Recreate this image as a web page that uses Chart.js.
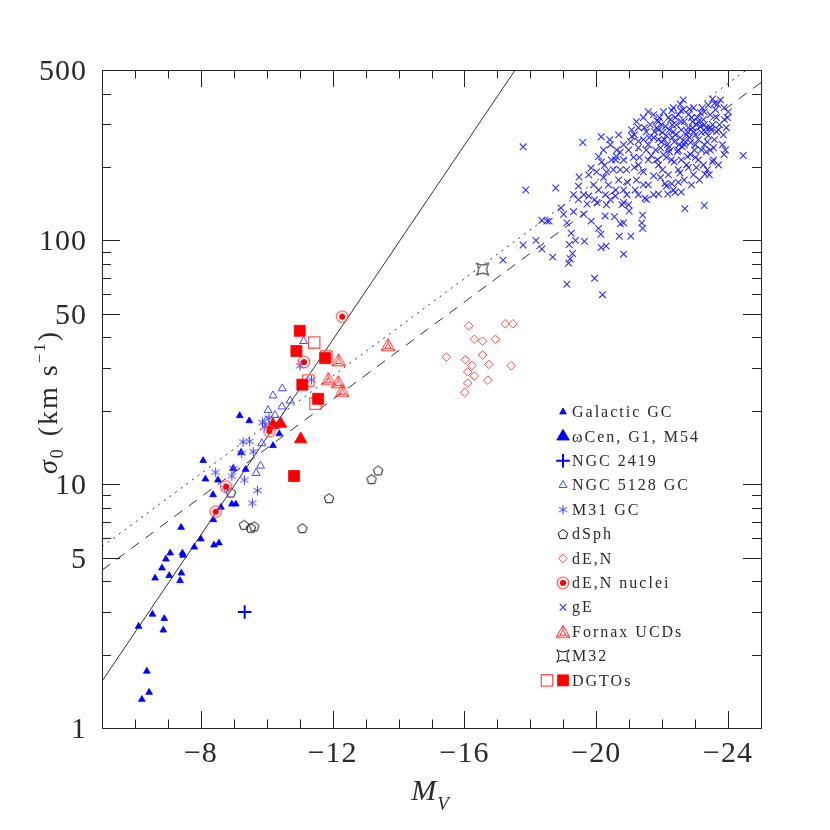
<!DOCTYPE html>
<html><head><meta charset="utf-8">
<script src="https://cdn.jsdelivr.net/npm/chart.js@4.4.0/dist/chart.umd.min.js"></script>
<style>html,body{margin:0;padding:0;background:#fff}</style>
</head><body>
<canvas id="c" width="830" height="830"></canvas>
<script>
// ---------------- data (M_V, sigma_0 in km/s) ----------------
const galacticGC_MV = [-9.18,-9.47,-10.38,-10.19,-8.07,-9.22,-8.98,-9.36,-8.14,-8.52,-8.37,-8.94,-9.06,-8.61,-8.38,-7.40,-8.00,-7.80,-8.40,-8.55,-7.07,-7.44,-7.46,-6.94,-6.82,-6.61,-7.04,-7.41,-7.37,-6.53,-6.89,-6.11,-6.86,-6.36,-6.43,-6.21];
const galacticGC_sigma = [19.1,18.2,16.1,14.4,12.5,13.5,11.6,11.5,10.5,10.4,9.05,8.29,8.29,8.04,7.15,6.65,5.96,5.52,5.63,5.74,5.22,5.22,5.11,4.93,4.53,4.12,4.22,4.32,4.02,2.93,2.81,2.61,2.52,1.71,1.40,1.31];
const omegaCen_MV = [-10.19,-10.42,-11.03];
const omegaCen_sigma = [17.5,17.7,15.3];
const ngc2419_MV = [-9.33];
const ngc2419_sigma = [2.99];
const ngc5128GC_MV = [-11.12,-10.47,-10.19,-10.71,-10.46,-10.04,-10.25,-9.98,-9.85,-9.81,-9.68];
const ngc5128GC_sigma = [38.6,24.7,23.1,22.0,20.8,20.1,19.2,18.2,14.7,11.9,11.1];
const m31GC_MV = [-11.01,-11.36,-9.87,-9.94,-9.28,-9.48,-9.59,-9.24,-8.45,-9.00,-8.94,-9.32,-8.73,-9.72,-9.56,-10.07];
const m31GC_sigma = [30.6,26.8,17.9,17.2,14.9,15.0,13.6,13.4,11.2,11.6,10.8,10.4,9.64,9.42,8.37,18.7];
const dSph_MV = [-8.91,-9.31,-9.52,-9.62,-11.08,-11.89,-13.18,-13.38];
const dSph_sigma = [9.25,6.82,6.63,6.72,6.61,8.77,10.5,11.4];
const dEN_MV = [-16.13,-17.24,-17.47,-16.30,-16.55,-16.94,-15.45,-16.03,-16.55,-16.23,-16.74,-17.42,-16.10,-16.30,-16.71,-16.10,-16.01];
const dEN_sigma = [44.6,45.5,45.5,39.3,38.6,39.3,33.2,32.4,33.9,30.7,31.0,30.6,28.9,27.8,26.7,26.0,23.8];
const dENnuclei_MV = [-12.29,-11.13,-10.08,-8.77,-8.45];
const dENnuclei_sigma = [48.7,31.7,16.5,9.78,7.71];
const fornaxUCD_MV = [-13.68,-12.18,-11.87,-12.17,-12.29];
const fornaxUCD_sigma = [37.3,32.3,27.1,26.3,24.2];
const m32_MV = [-16.55];
const m32_sigma = [76.2];
const dgtoFilled_MV = [-11.00,-10.90,-11.77,-11.08,-11.56,-10.83];
const dgtoFilled_sigma = [42.6,35.2,32.9,25.6,22.4,10.8];
const dgtoOpen_MV = [-11.44,-11.81,-11.26,-11.48];
const dgtoOpen_sigma = [38.1,33.4,26.6,21.4];
const gE_MV = [
 -17.78,-19.59,-20.15,-20.41,-17.86,-18.77,-17.17,-17.78,-18.17,-18.35,-18.68,-18.35,-18.50,-18.57,-18.93,-19.11,-19.24,-19.37,-19.64,-19.18,
 -19.28,-19.21,-19.16,-19.11,-19.95,-20.19,-20.83,-20.15,-20.30,-20.70,-21.05,-20.07,-20.14,-19.85,-19.31,-19.46,-19.48,-19.84,-20.07,-20.25,
 -20.61,-20.73,-21.08,-21.28,-22.69,-23.28,-23.88,-24.46,-23.53,-23.30,-22.29,-22.55,-22.57,-22.83,-23.53,-23.59,-23.88,-21.84,-21.41,-21.38,
 -21.41,-21.00,-20.78,-20.55,-20.73,-20.83,-19.77,-19.72,-20.02,-20.27,-20.58,-20.93,-20.83,-21.53,-21.89,-22.17,-22.39,-22.49,-22.29,-22.09,
 -22.54,-21.18,-21.48,
 -21.16,-21.28,-21.43,-21.52,-21.58,-21.64,-21.74,-21.80,-21.89,-21.92,-21.98,-22.04,-22.10,-22.13,-22.19,-22.25,-22.28,-22.34,-22.37,-22.43,
 -22.46,-22.49,-22.55,-22.58,-22.61,-22.67,-22.74,-22.77,-22.80,-22.86,-22.89,-22.95,-22.98,-23.04,-23.10,-23.16,-23.19,-23.25,-23.28,-23.34,
 -23.40,-23.46,-23.53,-23.59,-23.65,-23.71,-23.46,-23.10,-22.80,-22.49,-22.19,-21.89,-21.58,-21.43,-21.28,-21.13,-20.98,-20.92,-20.68,-20.52,
 -20.37,-20.22,-20.07,-19.92,-19.77,-19.62,-20.43,-20.83,-21.22,-21.58,-21.95,-22.34,-22.67,-22.95,-23.25,-23.56,-23.83,-23.95,-24.01,-23.89,
 -23.77,-23.40,-22.95,-22.64,-22.34,-22.04,-21.74,-21.43,-21.28,-21.04,-20.83,-20.62,-21.89,-22.01,-22.16,-22.31,-22.52,-22.70,-22.83,-23.01,
 -23.16,-23.31,-23.49,-21.83,-21.98,-22.22,-22.40,-22.64,-22.92,-23.07,-23.22,-23.62,-23.74,-21.52,-21.67,-22.13,-22.58,-23.01,-23.34,-20.59,
 -20.28,-19.95,-19.46,-19.31,-19.01,-19.62,-20.31,-20.98,-21.74,-21.28,
 -21.95,-22.07,-22.22,-22.31,-22.40,-22.49,-22.58,-22.67,-22.77,-22.86,-22.92,-23.01,-23.10,-23.19,-23.28,-23.37,-23.46,-23.56,-23.65,-21.77,
 -21.86,-22.01,-22.37,-22.74,-23.04,-23.37,-21.46,-21.61,-21.31,-21.16,-20.95,-20.73,-20.46,-20.31,-20.59,-20.16,-20.01,-21.43,-21.74,-22.13,
 -22.58,-22.89,-23.13,-23.43,-23.71,-23.92,-23.86,-23.98,-23.68,-23.28,-22.80,-22.19,-21.89,-21.58,-21.22,-21.07,-20.83,-20.68,-20.43,-20.22];
const gE_sigma = [
 242,252,266,259,161,164,83.0,95.8,100,92.2,85.4,121,120,120,136,118,107,100,99.1,96.2,
 88.4,84.1,80.7,66.1,69.9,59.9,87.8,93.5,94.9,104,104,112,106,120,131,167,182,198,221,203,
 221,230,267,255,135,139,225,223,210,187,341,362,340,346,380,365,350,310,127,118,
 112,132,140,125,117,118,152,141,143,126,152,154,143,147,155,155,157,173,171,171,
 189,161,149,
 271,290,259,279,247,298,264,235,284,319,254,225,293,269,240,313,214,279,254,298,
 231,328,264,284,242,307,271,221,290,252,319,279,235,298,259,334,277,313,247,290,
 269,328,298,259,319,284,235,214,199,195,186,204,214,191,204,219,235,195,177,195,
 169,181,161,169,186,154,147,161,177,169,181,161,177,186,204,214,247,290,337,313,
 377,359,350,377,350,337,328,319,240,254,214,235,259,277,247,264,247,254,264,271,
 293,279,284,290,298,284,319,344,307,319,350,344,298,235,223,219,214,219,231,214,
 154,147,147,154,128,128,140,140,154,154,
 240,259,231,298,271,235,307,247,279,225,290,247,307,235,298,254,290,240,279,279,
 214,195,210,204,199,195,290,264,219,199,173,195,214,191,161,210,191,169,184,167,
 158,169,177,186,204,235,271,319,362,337,328,319,307,337,307,284,247,271,247,235];
// reference relations (end points)
const solidLine_MV = [-5, -17.54];     const solidLine_sigma = [1.556, 500];
const dottedLine_MV = [-5, -25];       const dottedLine_sigma = [5.54, 554];
const dashedLine_MV = [-5, -25];       const dashedLine_sigma = [4.44, 444];
// axes
const xTickValues = [-8, -12, -16, -20, -24];
const yTickValues = [1, 5, 10, 50, 100, 500];
const yTickLabels = ['1', '5', '10', '50', '100', '500'];
const legendLabels = ['Galactic GC','\u03c9Cen, G1, M54','NGC 2419','NGC 5128 GC','M31 GC','dSph','dE,N','dE,N nuclei','gE','Fornax UCDs','M32','DGTOs'];

// ---------------- marker images ----------------
function makeCanvas(size, draw){ const c=document.createElement('canvas'); c.width=size; c.height=size; const g=c.getContext('2d'); draw(g, size/2); return c; }
const pentagonImg = makeCanvas(14,(g,c)=>{ g.strokeStyle='#111'; g.lineWidth=1; g.beginPath();
  for(let k=0;k<5;k++){const t=-Math.PI/2+k*2*Math.PI/5; const px=c+5*Math.cos(t), py=c+0.6+5*Math.sin(t); k?g.lineTo(px,py):g.moveTo(px,py);} g.closePath(); g.stroke(); });
const asteriskImg = makeCanvas(13,(g,c)=>{ g.strokeStyle='#3c3cff'; g.lineWidth=1; g.beginPath();
  for(const a of [90,30,150]){const t=a*Math.PI/180, r=4.8; g.moveTo(c-r*Math.cos(t),c-r*Math.sin(t)); g.lineTo(c+r*Math.cos(t),c+r*Math.sin(t));} g.stroke(); });
const fornaxImg = makeCanvas(20,(g,c)=>{ g.strokeStyle='#ff2a2a'; g.lineWidth=1;
  const v=(r,k)=>{const t=-Math.PI/2+k*2*Math.PI/3; return [c+r*Math.cos(t), c+1.8+r*Math.sin(t)];};
  for(const r of [8,3.6]){ g.beginPath(); for(let k=0;k<3;k++){const [px,py]=v(r,k); k?g.lineTo(px,py):g.moveTo(px,py);} g.closePath(); g.stroke(); }
  g.beginPath(); for(let k=0;k<3;k++){const a=v(3.6,k), b=v(8,k); g.moveTo(a[0],a[1]); g.lineTo(b[0],b[1]);} g.stroke(); });
const m32Img = makeCanvas(16,(g,c)=>{ g.strokeStyle='#111'; g.lineWidth=1; const R=6.2,q=1.8; g.beginPath();
  g.moveTo(c-R,c-R); g.quadraticCurveTo(c,c-q,c+R,c-R); g.quadraticCurveTo(c+q,c,c+R,c+R); g.quadraticCurveTo(c,c+q,c-R,c+R); g.quadraticCurveTo(c-q,c,c-R,c-R); g.stroke(); });
const nucleusImg = makeCanvas(16,(g,c)=>{ g.strokeStyle='#ff4d4d'; g.lineWidth=1.1; g.beginPath(); g.arc(c,c,5.8,0,2*Math.PI); g.stroke();
  g.fillStyle='#ff0000'; g.beginPath(); g.arc(c,c,3.1,0,2*Math.PI); g.fill(); });

// ---------------- styles ----------------
const T='rgba(0,0,0,0)';
const S = {
  gal:   {pointStyle:'triangle', radius:3.9, bg:'#0000ff', bc:'#0000ff', bw:0.8},
  omega: {pointStyle:'triangle', radius:7.2, bg:'#ff0000', bc:'#ff0000', bw:0.8},
  omegaLegend: {pointStyle:'triangle', radius:7.2, bg:'#0000ff', bc:'#0000ff', bw:0.8},
  n2419: {pointStyle:'cross', radius:6.8, bg:T, bc:'#0000ff', bw:2},
  n5128: {pointStyle:'triangle', radius:4.6, bg:T, bc:'#4646ff', bw:1},
  m31:   {pointStyle:asteriskImg, radius:5, bg:T, bc:'#3c3cff', bw:1},
  dsph:  {pointStyle:pentagonImg, radius:5, bg:T, bc:'#111', bw:1},
  den:   {pointStyle:'rectRot', radius:4.3, bg:T, bc:'#ff4a4a', bw:1},
  nuc:   {pointStyle:nucleusImg, radius:6, bg:T, bc:'#ff0000', bw:1},
  ge:    {pointStyle:'crossRot', radius:4.7, bg:T, bc:'rgba(25,25,255,0.9)', bw:1.1},
  fornax:{pointStyle:fornaxImg, radius:7, bg:T, bc:'#ff2a2a', bw:1},
  m32:   {pointStyle:m32Img, radius:6, bg:T, bc:'#111', bw:1},
  dgtoF: {pointStyle:'rect', radius:7.8, bg:'#ff0000', bc:'#ff0000', bw:0.8},
  dgtoO: {pointStyle:'rect', radius:8, bg:T, bc:'#ff5c5c', bw:1.3}
};
const pts = (xs, ys) => xs.map((x,i)=>({x, y:ys[i]}));
const ds = (label, xs, ys, s) => ({label, data:pts(xs,ys), showLine:false, pointStyle:s.pointStyle, pointRadius:s.radius, pointHoverRadius:s.radius,
  pointBackgroundColor:s.bg, pointBorderColor:s.bc, pointBorderWidth:s.bw, backgroundColor:s.bg, borderColor:s.bc});
const lineDs = (label, xs, ys, dash) => ({label, data:pts(xs,ys), showLine:true, pointRadius:0, borderColor:'#333', borderWidth:1, borderDash:dash, fill:false});

const datasets = [
  ds('DGTOs', dgtoFilled_MV, dgtoFilled_sigma, S.dgtoF),
  ds('DGTOs (open)', dgtoOpen_MV, dgtoOpen_sigma, S.dgtoO),
  ds('Fornax UCDs', fornaxUCD_MV, fornaxUCD_sigma, S.fornax),
  ds('dE,N nuclei', dENnuclei_MV, dENnuclei_sigma, S.nuc),
  ds('\u03c9Cen, G1, M54', omegaCen_MV, omegaCen_sigma, S.omega),
  ds('dE,N', dEN_MV, dEN_sigma, S.den),
  ds('M32', m32_MV, m32_sigma, S.m32),
  ds('gE', gE_MV, gE_sigma, S.ge),
  ds('dSph', dSph_MV, dSph_sigma, S.dsph),
  ds('M31 GC', m31GC_MV, m31GC_sigma, S.m31),
  ds('NGC 5128 GC', ngc5128GC_MV, ngc5128GC_sigma, S.n5128),
  ds('NGC 2419', ngc2419_MV, ngc2419_sigma, S.n2419),
  ds('Galactic GC', galacticGC_MV, galacticGC_sigma, S.gal),
  lineDs('solid', solidLine_MV, solidLine_sigma, []),
  lineDs('dotted', dottedLine_MV, dottedLine_sigma, [2,5]),
  lineDs('dashed', dashedLine_MV, dashedLine_sigma, [10,8])
];

const SERIF = '"Liberation Serif", "DejaVu Serif", serif';
const TXT = '#2a2a2a';
function drawMarker(ctx, s, x, y){
  ctx.save(); ctx.fillStyle=s.bg; ctx.strokeStyle=s.bc; ctx.lineWidth=s.bw;
  Chart.helpers.drawPoint(ctx, {pointStyle:s.pointStyle, radius:s.radius, rotation:0, borderWidth:s.bw}, x, y);
  ctx.restore();
}
function drawSeq(ctx, segs, x0, y0){
  let w=0; for(const s of segs){ ctx.font=s.f; w+=ctx.measureText(s.t).width + (s.gap||0); }
  let x = x0 - w/2;
  for(const s of segs){ ctx.font=s.f; ctx.fillText(s.t, x, y0 + s.dy); x += ctx.measureText(s.t).width + (s.gap||0); }
}

const framePlugin = {
  id:'frame',
  afterDatasetsDraw(chart){
    const {ctx, chartArea:a} = chart; const xs=chart.scales.x, ys=chart.scales.y;
    ctx.save();
    ctx.strokeStyle='#222'; ctx.lineWidth=1;
    ctx.strokeRect(a.left+0.5, a.top+0.5, a.right-a.left, a.bottom-a.top);
    ctx.beginPath();
    for(let v=-24; v<=-6; v++){
      const px=Math.round(xs.getPixelForValue(v))+0.5; const L=(v%4===0)?17:8.5;
      ctx.moveTo(px,a.bottom); ctx.lineTo(px,a.bottom-L); ctx.moveTo(px,a.top); ctx.lineTo(px,a.top+L);
    }
    for(const d of [1,10,100]) for(let m=1;m<=9;m++){
      const v=m*d; if(v<=1||v>=500) continue;
      const py=Math.round(ys.getPixelForValue(v))+0.5; const L=(m===1||m===5)?18:9;
      ctx.moveTo(a.left,py); ctx.lineTo(a.left+L,py); ctx.moveTo(a.right,py); ctx.lineTo(a.right-L,py);
    }
    ctx.stroke();
    // tick labels
    ctx.fillStyle=TXT; ctx.font='30px '+SERIF; ctx.letterSpacing='1px';
    ctx.textAlign='center'; ctx.textBaseline='alphabetic';
    for(const v of xTickValues){ ctx.fillText('\u2212'+Math.abs(v), xs.getPixelForValue(v), 762); }
    ctx.textAlign='right';
    yTickValues.forEach((v,i)=>{ ctx.fillText(yTickLabels[i], 87, ys.getPixelForValue(v)+10); });
    ctx.letterSpacing='0px';
    // axis titles
    ctx.textAlign='left';
    drawSeq(ctx, [{t:'M', f:'italic 30px '+SERIF, dy:0, gap:1},{t:'V', f:'italic 19px '+SERIF, dy:10}], 430, 800);
    ctx.save(); ctx.translate(57, 402); ctx.rotate(-Math.PI/2); ctx.letterSpacing='2px';
    drawSeq(ctx, [{t:'\u03c3', f:'italic 28px '+SERIF, dy:0},{t:'0', f:'18px '+SERIF, dy:6, gap:2},{t:' (km s', f:'28px '+SERIF, dy:0},
      {t:'\u22121', f:'17px '+SERIF, dy:-12},{t:')', f:'28px '+SERIF, dy:0}], 0, 0);
    ctx.restore();
    // legend
    const legendStyles=[S.gal,S.omegaLegend,S.n2419,S.n5128,S.m31,S.dsph,S.den,S.nuc,S.ge,S.fornax,S.m32,S.dgtoF];
    ctx.letterSpacing='2px'; ctx.textBaseline='middle'; ctx.textAlign='left';
    legendLabels.forEach((lab,i)=>{
      const y=412+i*24.4;
      drawMarker(ctx, legendStyles[i], 563, y);
      if(i===legendLabels.length-1) drawMarker(ctx, S.dgtoO, 547, y);
      ctx.fillStyle=TXT; ctx.font='16px '+SERIF; ctx.fillText(lab, 572, y+1);
    });
    ctx.restore();
  }
};

new Chart(document.getElementById('c'), {
  type:'scatter',
  data:{datasets},
  options:{
    responsive:false, animation:false, devicePixelRatio:1, events:[],
    layout:{padding:{left:102, right:69, top:70, bottom:102}},
    plugins:{legend:{display:false}, tooltip:{enabled:false}},
    scales:{
      x:{type:'linear', min:-25, max:-5, reverse:true, ticks:{display:false}, grid:{display:false}, border:{display:false},
         afterFit:(s)=>{ s.height=0; s.paddingLeft=0; s.paddingRight=0; }},
      y:{type:'logarithmic', min:1, max:500, ticks:{display:false}, grid:{display:false}, border:{display:false},
         afterFit:(s)=>{ s.width=0; s.paddingTop=0; s.paddingBottom=0; }}
    }
  },
  plugins:[framePlugin]
});
</script>
</body></html>
